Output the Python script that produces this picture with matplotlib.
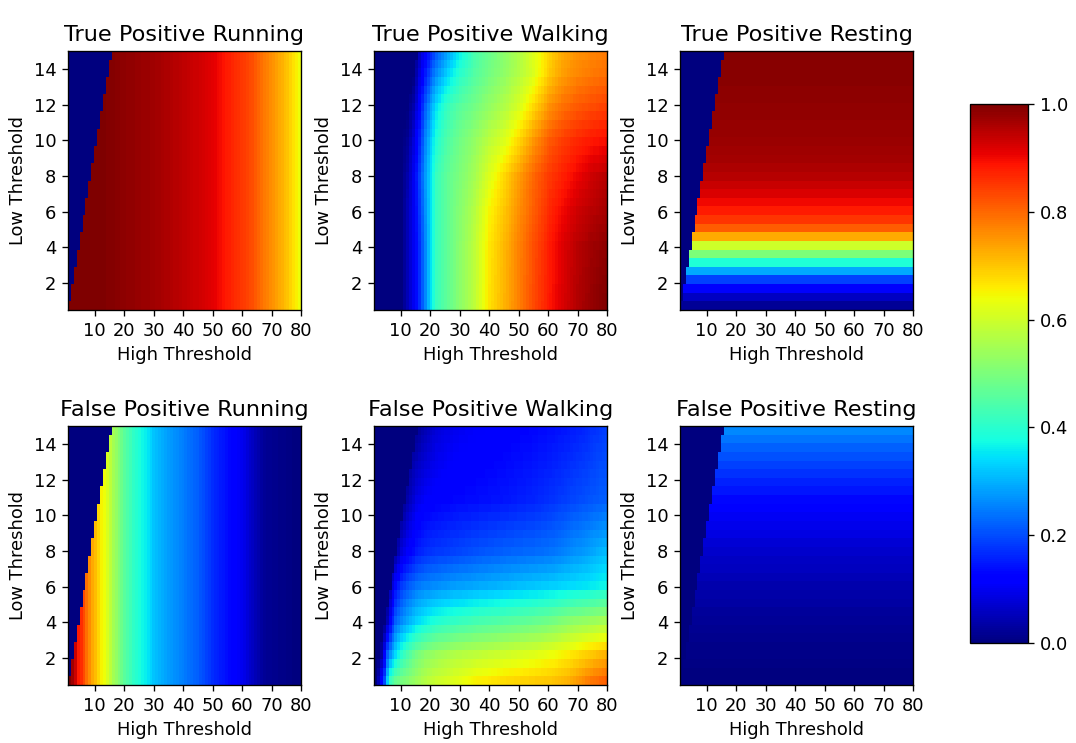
import numpy as np
import matplotlib
matplotlib.use("Agg")
import matplotlib.pyplot as plt

plt.rcParams["font.size"] = 10.7
plt.rcParams["axes.titlesize"] = 13.4

# threshold grids
high_thr = np.arange(1, 81)            # high threshold, 1..80
low_thr = np.arange(0.5, 15.01, 0.5)   # low threshold, 0.5..15

# --- True positive, running: depends on high threshold only
tp_run_x = [1, 10, 15, 20, 30, 40, 45, 50, 53, 56, 60, 64, 67, 70, 73, 76, 78, 80]
tp_run_v = [1.0, 1.0, 0.995, 0.985, 0.97, 0.945, 0.93, 0.912, 0.895, 0.875, 0.85,
            0.825, 0.79, 0.76, 0.73, 0.70, 0.67, 0.64]

# --- False positive, running: depends on high threshold only
fp_run_x = [1, 2, 3, 4, 5, 6, 7, 8, 9, 10, 11, 12, 13, 14, 15, 16, 18, 20, 23, 26,
            28, 30, 35, 40, 45, 50, 55, 60, 65, 68, 80]
fp_run_v = [1.0, 0.97, 0.93, 0.88, 0.86, 0.83, 0.79, 0.76, 0.73, 0.71, 0.68, 0.65,
            0.64, 0.61, 0.58, 0.55, 0.505, 0.46, 0.41, 0.37, 0.35, 0.32, 0.28, 0.25,
            0.22, 0.17, 0.14, 0.10, 0.05, 0.02, 0.0]

# --- Resting: depends on low threshold only (one value per low threshold)
tp_rest_v = [0.02, 0.06, 0.11, 0.19, 0.29, 0.39, 0.50, 0.60, 0.73, 0.81,
             0.855, 0.88, 0.90, 0.92, 0.935, 0.95, 0.958, 0.965, 0.97, 0.975,
             0.978, 0.98, 0.982, 0.984, 0.986, 0.988, 0.99, 0.991, 0.992, 0.993]
fp_rest_v = [0.0, 0.0, 0.005, 0.008, 0.01, 0.013, 0.017, 0.022, 0.027, 0.032,
             0.037, 0.042, 0.048, 0.055, 0.062, 0.07, 0.078, 0.086, 0.095, 0.105,
             0.118, 0.13, 0.145, 0.16, 0.175, 0.19, 0.205, 0.22, 0.24, 0.26]

# --- True positive, walking: table of rows (low threshold) x knots (high threshold)
tp_walk_y = [0.5, 4, 6, 8, 10, 12, 14, 15]
tp_walk_x = [1, 10, 12, 14, 16, 18, 20, 22, 25, 30, 35, 40, 45, 50, 55, 60, 65, 70, 75, 80]
tp_walk_v = [
    [0, 0, 0.05, 0.10, 0.17, 0.26, 0.35, 0.42, 0.46, 0.52, 0.58, 0.67, 0.72, 0.77, 0.83, 0.88, 0.92, 0.955, 0.98, 1.0],
    [0, 0, 0.05, 0.10, 0.17, 0.26, 0.35, 0.42, 0.46, 0.52, 0.58, 0.665, 0.715, 0.77, 0.825, 0.875, 0.915, 0.95, 0.97, 0.985],
    [0, 0, 0.05, 0.10, 0.18, 0.27, 0.35, 0.42, 0.46, 0.515, 0.57, 0.65, 0.70, 0.755, 0.81, 0.86, 0.90, 0.93, 0.95, 0.965],
    [0, 0, 0.04, 0.10, 0.19, 0.28, 0.35, 0.42, 0.46, 0.505, 0.55, 0.62, 0.68, 0.74, 0.80, 0.845, 0.875, 0.905, 0.93, 0.95],
    [0, 0, 0.02, 0.08, 0.16, 0.26, 0.33, 0.39, 0.44, 0.49, 0.53, 0.58, 0.62, 0.68, 0.75, 0.81, 0.845, 0.87, 0.885, 0.895],
    [0, 0, 0.0, 0.04, 0.12, 0.22, 0.29, 0.35, 0.41, 0.46, 0.49, 0.53, 0.565, 0.61, 0.68, 0.75, 0.79, 0.815, 0.83, 0.84],
    [0, 0, 0.0, 0.0, 0.08, 0.15, 0.21, 0.26, 0.32, 0.40, 0.45, 0.49, 0.525, 0.565, 0.615, 0.69, 0.74, 0.765, 0.78, 0.79],
    [0, 0, 0.0, 0.0, 0.06, 0.12, 0.17, 0.22, 0.28, 0.37, 0.44, 0.48, 0.52, 0.56, 0.62, 0.68, 0.73, 0.755, 0.77, 0.78],
]

# --- False positive, walking
fp_walk_y = [0.5, 2, 4, 6, 8, 11, 15]
fp_walk_x = [1, 2, 3, 4, 5, 6, 8, 10, 12, 15, 18, 22, 28, 35, 45, 55, 62, 67, 73, 80]
fp_walk_v = [
    [0.0, 0.05, 0.12, 0.20, 0.33, 0.42, 0.47, 0.495, 0.51, 0.54, 0.57, 0.595, 0.62, 0.65, 0.675, 0.69, 0.70, 0.72, 0.77, 0.81],
    [0, 0, 0.03, 0.11, 0.22, 0.27, 0.34, 0.40, 0.44, 0.49, 0.52, 0.54, 0.565, 0.58, 0.60, 0.62, 0.64, 0.66, 0.69, 0.72],
    [0, 0, 0, 0, 0.05, 0.11, 0.22, 0.26, 0.29, 0.335, 0.36, 0.39, 0.41, 0.43, 0.45, 0.47, 0.49, 0.515, 0.53, 0.55],
    [0, 0, 0, 0, 0, 0.04, 0.13, 0.18, 0.21, 0.24, 0.255, 0.265, 0.28, 0.29, 0.305, 0.32, 0.33, 0.34, 0.35, 0.37],
    [0, 0, 0, 0, 0, 0, 0.02, 0.08, 0.11, 0.15, 0.17, 0.18, 0.19, 0.205, 0.22, 0.23, 0.24, 0.26, 0.28, 0.31],
    [0, 0, 0, 0, 0, 0, 0, 0, 0.04, 0.09, 0.11, 0.12, 0.13, 0.135, 0.145, 0.16, 0.175, 0.19, 0.205, 0.22],
    [0, 0, 0, 0, 0, 0, 0, 0, 0, 0.02, 0.05, 0.08, 0.10, 0.11, 0.12, 0.13, 0.14, 0.15, 0.165, 0.19],
]

titles = ["True Positive Running", "True Positive Walking", "True Positive Resting",
          "False Positive Running", "False Positive Walking", "False Positive Resting"]


def grid_from_cols(xk, vk):
    row = np.interp(high_thr, xk, vk)
    return np.tile(row, (len(low_thr), 1))


def grid_from_rows(vals):
    return np.tile(np.asarray(vals)[:, None], (1, len(high_thr)))


def grid_from_table(yk, xk, table):
    rows = np.array([np.interp(high_thr, xk, r) for r in table])
    out = np.empty((len(low_thr), len(high_thr)))
    for j in range(len(high_thr)):
        out[:, j] = np.interp(low_thr, yk, rows[:, j])
    return out


grids = [
    grid_from_cols(tp_run_x, tp_run_v),
    grid_from_table(tp_walk_y, tp_walk_x, tp_walk_v),
    grid_from_rows(tp_rest_v),
    grid_from_cols(fp_run_x, fp_run_v),
    grid_from_table(fp_walk_y, fp_walk_x, fp_walk_v),
    grid_from_rows(fp_rest_v),
]

# high threshold must sit above the low one
invalid = high_thr[None, :] <= low_thr[:, None]
for g in grids:
    g[invalid] = 0.0

W, H = 1076, 743
fig = plt.figure(figsize=(W / 120, H / 120), dpi=120)

lefts = [68, 374, 680]
tops = [51, 426]
aw, ah = 233, 259

for i, (Z, title) in enumerate(zip(grids, titles)):
    r, c = divmod(i, 3)
    ax = fig.add_axes([lefts[c] / W, 1 - (tops[r] + ah) / H, aw / W, ah / H])
    im = ax.imshow(Z, origin="lower", extent=[high_thr[0], high_thr[-1], low_thr[0], low_thr[-1]],
                   aspect="auto", cmap="jet", vmin=0, vmax=1, interpolation="nearest")
    ax.set_xticks(np.arange(10, 81, 10))
    ax.set_yticks(np.arange(2, 15, 2))
    ax.set_xlabel("High Threshold")
    ax.set_ylabel("Low Threshold")
    ax.set_title(title)

cax = fig.add_axes([970 / W, 1 - 643 / H, 58 / W, 539 / H])
cb = fig.colorbar(im, cax=cax)
cb.set_ticks([0.0, 0.2, 0.4, 0.6, 0.8, 1.0])

fig.savefig("out.png", dpi=120)
